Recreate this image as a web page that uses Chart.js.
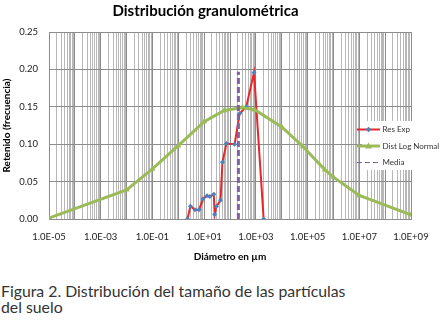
<!DOCTYPE html>
<html>
<head>
<meta charset="utf-8">
<script src="https://cdn.jsdelivr.net/npm/chart.js@4.4.0/dist/chart.umd.min.js"></script>
<style>
body { margin: 0; background: #fff; }
#wrap { position: relative; width: 443px; height: 320px; }
#caption { position: absolute; left: 1px; top: 283px; font-family: Lato, sans-serif; font-size: 15.8px; line-height: 15.6px; color: #333; }
</style>
</head>
<body>
<div id="wrap">
<canvas id="graphCanvas" width="443" height="270"></canvas>
<div id="caption">Figura 2. Distribución del tamaño de las partículas<br>del suelo</div>
</div>
<script>
// Res Exp (diametro en um, retenido)
var diametroExp = [2.26, 2.95, 4.4, 6.35, 9.1, 13, 16.5, 23.6, 25.5, 30, 43, 51, 73, 151, 236, 426, 850, 2000];
var retenidoExp = [0.000, 0.017, 0.0125, 0.0125, 0.027, 0.031, 0.030, 0.033, 0.006, 0.017, 0.025, 0.076, 0.101, 0.100, 0.141, 0.150, 0.196, 0.000];

// Dist Log Normal
var diametroLog = [1e-5, 1e-2, 1e-1, 1, 10, 60, 300, 900, 1e4, 6.6e4, 4.6e5, 1e6, 1e7, 1e9];
var retenidoLog = [0.0013, 0.039, 0.067, 0.098, 0.130, 0.145, 0.149, 0.146, 0.123, 0.097, 0.066, 0.056, 0.0315, 0.0057];

// Media
var mediaDiametro = [211, 211];
var mediaRetenido = [0, 0.197];

var xTickValues = [1e-5, 1e-3, 1e-1, 1e1, 1e3, 1e5, 1e7, 1e9];
var xTickLabels = ['1.0E-05', '1.0E-03', '1.0E-01', '1.0E+01', '1.0E+03', '1.0E+05', '1.0E+07', '1.0E+09'];
var yTickLabels = ['0.00', '0.05', '0.10', '0.15', '0.20', '0.25'];

function pares(xs, ys) {
    var out = [];
    for (var i in xs) {
        out.push({ x: xs[i], y: ys[i] });
    }
    return out;
}

function esDecada(v) {
    var e = Math.round(Math.log10(v));
    return Math.abs(v / Math.pow(10, e) - 1) < 1e-6;
}

var leyenda = {
    id: 'leyenda',
    afterDraw: function(chart) {
        var ctx = chart.ctx;
        ctx.save();
        ctx.fillStyle = '#fff';
        ctx.fillRect(362, 121, 81, 49);
        var filas = [
            { y: 129.5, color: '#e8262b', w: 2, dash: [], text: 'Res Exp', marker: 'diamond' },
            { y: 146, color: '#9bbb59', w: 3, dash: [], text: 'Dist Log Normal', marker: 'triangle' },
            { y: 162.5, color: '#8064a2', w: 1, dash: [5, 3], text: 'Media', marker: null }
        ];
        filas.forEach(function(f) {
            ctx.beginPath();
            ctx.setLineDash(f.dash);
            ctx.strokeStyle = f.color;
            ctx.lineWidth = f.w;
            ctx.moveTo(357, f.y);
            ctx.lineTo(380, f.y);
            ctx.stroke();
            ctx.setLineDash([]);
            if (f.marker === 'diamond') {
                ctx.fillStyle = '#4f81bd';
                ctx.beginPath();
                ctx.moveTo(368.5, f.y - 2.8);
                ctx.lineTo(371.3, f.y);
                ctx.lineTo(368.5, f.y + 2.8);
                ctx.lineTo(365.7, f.y);
                ctx.closePath();
                ctx.fill();
            } else if (f.marker === 'triangle') {
                ctx.fillStyle = f.color;
                ctx.beginPath();
                ctx.moveTo(368.5, f.y - 3.5);
                ctx.lineTo(372, f.y + 2.5);
                ctx.lineTo(365, f.y + 2.5);
                ctx.closePath();
                ctx.fill();
            }
            ctx.fillStyle = '#333';
            ctx.font = '8px Lato';
            ctx.textBaseline = 'middle';
            ctx.fillText(f.text, 382.5, f.y);
        });
        ctx.restore();
    }
};

var graphTarget = document.getElementById('graphCanvas');

var chart = new Chart(graphTarget, {
    type: 'line',
    data: {
        datasets: [{
            label: 'Res Exp',
            data: pares(diametroExp, retenidoExp),
            borderColor: '#e8262b',
            borderWidth: 2,
            pointStyle: 'rectRot',
            pointRadius: 2.5,
            pointBackgroundColor: '#4f81bd',
            pointBorderColor: '#4f81bd',
            pointBorderWidth: 0,
            order: 3
        }, {
            label: 'Dist Log Normal',
            data: pares(diametroLog, retenidoLog),
            borderColor: '#9bbb59',
            borderWidth: 3,
            pointStyle: 'triangle',
            pointRadius: 3.5,
            pointBackgroundColor: '#9bbb59',
            pointBorderColor: '#9bbb59',
            pointBorderWidth: 0,
            order: 2
        }, {
            label: 'Media',
            data: pares(mediaDiametro, mediaRetenido),
            borderColor: '#8064a2',
            borderWidth: 3,
            borderDash: [6, 3],
            pointRadius: 0,
            order: 1
        }]
    },
    options: {
        responsive: false,
        animation: false,
        devicePixelRatio: 1,
        layout: { padding: { left: 0, right: 32, top: 0, bottom: 0 } },
        plugins: {
            legend: { display: false },
            tooltip: { enabled: false },
            title: {
                display: true,
                text: 'Distribución granulométrica',
                color: '#000',
                font: { family: 'Lato', size: 15, weight: 'bold' },
                padding: { top: 2, bottom: 12 }
            }
        },
        scales: {
            x: {
                type: 'logarithmic',
                min: 1e-5,
                max: 1e9,
                afterBuildTicks: function(axis) {
                    var t = [];
                    for (var e = -5; e < 9; e++) {
                        for (var m = 1; m <= 9; m++) {
                            t.push({ value: m * Math.pow(10, e) });
                        }
                    }
                    t.push({ value: 1e9 });
                    axis.ticks = t;
                },
                afterFit: function(scale) { scale.height = 51; },
                ticks: {
                    autoSkip: false,
                    maxRotation: 0,
                    minRotation: 0,
                    padding: 12,
                    color: '#1a1a1a',
                    font: { family: 'Lato', size: 9.5 },
                    callback: function(value) {
                        for (var i in xTickValues) {
                            if (Math.abs(value / xTickValues[i] - 1) < 1e-6) return xTickLabels[i];
                        }
                        return '';
                    }
                },
                grid: {
                    drawTicks: false,
                    color: function(c) {
                        return c.tick && esDecada(c.tick.value) ? '#8c8c8c' : '#b8b8b8';
                    }
                },
                border: { color: '#8c8c8c' },
                title: {
                    display: true,
                    text: 'Diámetro en µm',
                    color: '#000',
                    font: { family: 'Lato', size: 10, weight: 'bold' },
                    padding: { top: 0, bottom: 7 }
                }
            },
            y: {
                min: 0,
                max: 0.25,
                afterFit: function(scale) { scale.width = 49; },
                ticks: {
                    stepSize: 0.05,
                    padding: 11,
                    color: '#1a1a1a',
                    font: { family: 'Lato', size: 9.5 },
                    callback: function(value, index) { return yTickLabels[index]; }
                },
                grid: { drawTicks: false, color: '#8c8c8c' },
                border: { color: '#8c8c8c' },
                title: {
                    display: true,
                    text: 'Retenido (frecuencia)',
                    color: '#000',
                    font: { family: 'Lato', size: 10, weight: 'bold' },
                    padding: { top: 1, bottom: 0 }
                }
            }
        }
    },
    plugins: [leyenda]
});
</script>
</body>
</html>
